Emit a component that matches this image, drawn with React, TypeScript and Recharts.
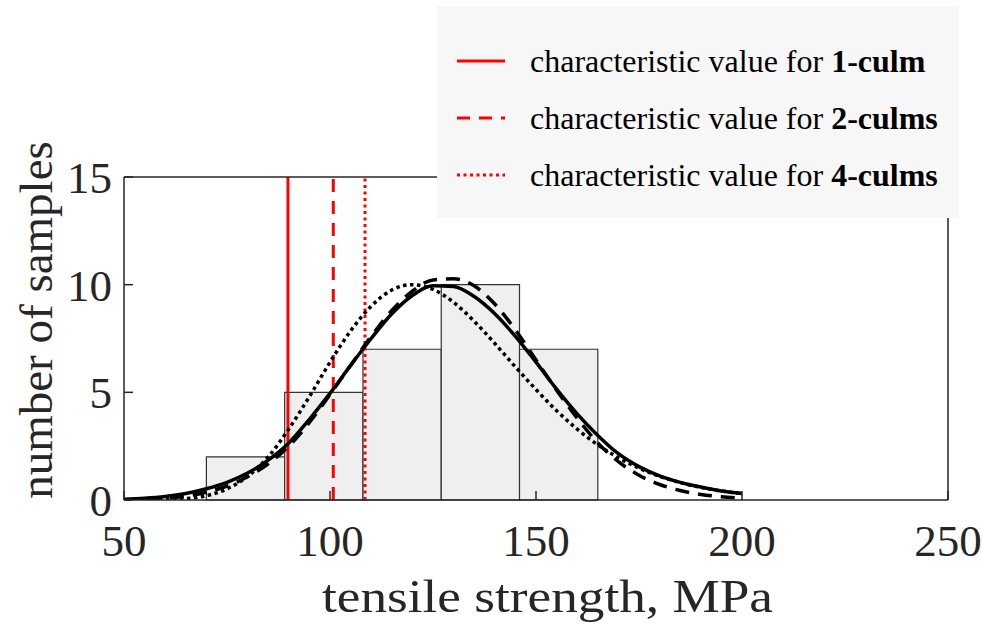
import React from 'react';
import { ComposedChart, Line, XAxis, YAxis, ReferenceArea, ReferenceLine } from 'recharts';

const FONT = 'Liberation Serif';

// histogram of tensile strength (MPa)
const binEdges = [70, 89, 108, 127, 146, 165];
const binCounts = [2, 5, 7, 10, 7];

// fitted distribution curves
const strengthX = [50, 55, 60, 65, 70, 75, 80, 85, 90, 95, 100, 105, 110, 115, 120, 125, 130, 135, 140, 145, 150, 155, 160, 165, 170, 175, 180, 185, 190, 195, 200];
const fitSolid = [0.04, 0.08, 0.16, 0.3, 0.52, 0.82, 1.25, 1.85, 2.65, 3.75, 4.95, 6.25, 7.5, 8.65, 9.5, 9.95, 9.92, 9.45, 8.65, 7.6, 6.4, 5.15, 4.0, 3.0, 2.15, 1.55, 1.12, 0.82, 0.6, 0.42, 0.3];
const fitDashed = [0.01, 0.03, 0.08, 0.18, 0.36, 0.65, 1.08, 1.68, 2.5, 3.6, 4.9, 6.25, 7.6, 8.8, 9.7, 10.22, 10.27, 9.95, 9.1, 7.9, 6.5, 5.1, 3.8, 2.65, 1.78, 1.15, 0.72, 0.44, 0.26, 0.15, 0.08];
const fitDotted = [0, 0, 0.02, 0.06, 0.2, 0.52, 1.1, 2.0, 3.3, 4.8, 6.4, 7.85, 9.0, 9.75, 10.0, 9.78, 9.18, 8.3, 7.27, 6.18, 5.13, 4.15, 3.29, 2.56, 1.96, 1.48, 1.1, 0.81, 0.59, 0.42, 0.3];

// characteristic values (MPa)
const charValues = [89.8, 100.8, 108.5];
const charLabels = ['1-culm', '2-culms', '4-culms'];
const charDash = [undefined, '13 9', '3 3.5'];

const xTicks = [50, 100, 150, 200, 250];
const yTicks = [0, 5, 10, 15];
const xTitle = 'tensile strength, MPa';
const yTitle = 'number of samples';

const toSeries = (ys: number[]) => strengthX.map((x, i) => ({ x, y: ys[i] }));

const bins = binCounts.map((c, i) => ({ x1: binEdges[i], x2: binEdges[i + 1], c }));

const tickStyle = { fill: '#262626', fontSize: 45, fontFamily: FONT };

export default function App() {
  return (
    <div style={{ position: 'absolute', left: 0, top: 0, width: 982, height: 624, background: '#fff', fontFamily: FONT }}>
      <ComposedChart width={982} height={624} margin={{ top: 176, right: 33, bottom: 0, left: 0 }}>
        <XAxis
          type="number"
          dataKey="x"
          domain={[50, 250]}
          ticks={xTicks}
          allowDataOverflow
          tickSize={-9}
          tickMargin={33}
          height={124}
          stroke="#262626"
          strokeWidth={1.5}
          tick={tickStyle}
        />
        <XAxis
          xAxisId="top"
          orientation="top"
          type="number"
          dataKey="x"
          domain={[50, 250]}
          ticks={xTicks}
          allowDataOverflow
          tickSize={-9}
          tick={false}
          height={1}
          stroke="#262626"
          strokeWidth={1.5}
        />
        <YAxis
          type="number"
          domain={[0, 15]}
          ticks={yTicks}
          allowDataOverflow
          tickSize={-9}
          tickMargin={21}
          width={124}
          stroke="#262626"
          strokeWidth={1.5}
          tick={tickStyle}
        />
        <YAxis
          yAxisId="right"
          orientation="right"
          type="number"
          domain={[0, 15]}
          ticks={yTicks}
          allowDataOverflow
          tickSize={-9}
          tick={false}
          width={1}
          stroke="#262626"
          strokeWidth={1.5}
        />
        {bins.map((b, i) => (
          <ReferenceArea
            key={'bin' + i}
            x1={b.x1}
            x2={b.x2}
            y1={0}
            y2={b.c}
            fill="#efefef"
            fillOpacity={1}
            stroke="#333333"
            strokeWidth={1.2}
          />
        ))}
        {charValues.map((v, i) => (
          <ReferenceLine
            key={'cv' + i}
            x={v}
            stroke="#ff0000"
            strokeWidth={3}
            strokeDasharray={charDash[i]}
          />
        ))}
        <Line data={toSeries(fitSolid)} dataKey="y" type="monotone" stroke="#000" strokeWidth={3.5} dot={false} isAnimationActive={false} />
        <Line data={toSeries(fitDashed)} dataKey="y" type="monotone" stroke="#000" strokeWidth={3.5} strokeDasharray="14 9" dot={false} isAnimationActive={false} />
        <Line xAxisId="top" yAxisId="right" data={toSeries(fitDotted)} dataKey="y" type="monotone" stroke="#000" strokeWidth={3.5} strokeDasharray="3.5 3.5" dot={false} isAnimationActive={false} />
      </ComposedChart>

      <svg width={982} height={624} style={{ position: 'absolute', left: 0, top: 0, pointerEvents: 'none' }}>
        <text x={52} y={320} transform="rotate(-90, 52, 320)" textAnchor="middle" fontFamily={FONT} fontSize={47} fill="#262626">
          {yTitle}
        </text>
        <text x={322} y={612} textLength={451} lengthAdjust="spacingAndGlyphs" fontFamily={FONT} fontSize={47} fill="#262626">
          {xTitle}
        </text>
      </svg>

      <div style={{ position: 'absolute', left: 437, top: 6, width: 522, height: 212, background: '#f7f7f7' }}>
        <svg width={522} height={212}>
          {charLabels.map((lab, i) => (
            <g key={lab}>
              <line x1={20} x2={68} y1={55 + i * 57} y2={55 + i * 57} stroke="#ff0000" strokeWidth={3} strokeDasharray={charDash[i]} />
              <text x={93} y={66 + i * 57} fontFamily={FONT} fontSize={32} fill="#000">
                characteristic value for <tspan fontWeight="bold">{lab}</tspan>
              </text>
            </g>
          ))}
        </svg>
      </div>
    </div>
  );
}
